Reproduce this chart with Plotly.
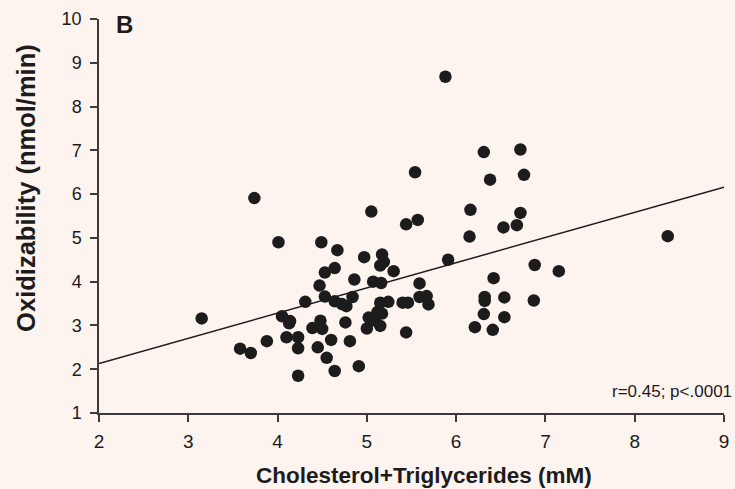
import plotly.graph_objects as go

# Data
chol_tg = [3.15, 3.58, 3.70, 3.74, 3.88, 4.01, 4.05, 4.14, 4.13, 4.10, 4.23, 4.23, 4.23,
           4.31, 4.39, 4.45, 4.47, 4.49, 4.48, 4.50, 4.53, 4.53, 4.55, 4.60, 4.64, 4.64,
           4.64, 4.67, 4.72, 4.77, 4.76, 4.81, 4.84, 4.86, 4.91, 4.97, 5.00, 5.02, 5.05,
           5.07, 5.09, 5.12, 5.15, 5.15, 5.16, 5.15, 5.17, 5.17, 5.19, 5.24, 5.30, 5.40,
           5.44, 5.44, 5.46, 5.54, 5.57, 5.59, 5.59, 5.67, 5.69, 5.88, 5.91, 6.15, 6.16,
           6.21, 6.31, 6.31, 6.32, 6.32, 6.38, 6.41, 6.42, 6.53, 6.54, 6.54, 6.68, 6.72,
           6.72, 6.76, 6.88, 6.87, 7.15, 8.37]
oxidizability = [3.16, 2.47, 2.37, 5.91, 2.64, 4.90, 3.21, 3.10, 3.05, 2.73, 2.73, 2.48, 1.85,
                 3.54, 2.94, 2.50, 3.91, 4.90, 3.11, 2.92, 4.21, 3.66, 2.26, 2.67, 1.96, 4.31,
                 3.55, 4.72, 3.49, 3.44, 3.07, 2.64, 3.65, 4.05, 2.07, 4.56, 2.93, 3.18, 5.60,
                 4.00, 3.11, 3.31, 2.99, 4.37, 3.97, 3.52, 4.62, 3.27, 4.45, 3.54, 4.24, 3.52,
                 2.84, 5.31, 3.52, 6.50, 5.41, 3.96, 3.65, 3.67, 3.48, 8.68, 4.50, 5.03, 5.64,
                 2.96, 6.96, 3.26, 3.65, 3.56, 6.33, 2.90, 4.08, 5.24, 3.64, 3.19, 5.29, 7.02,
                 5.57, 6.44, 4.38, 3.57, 4.24, 5.04]
fit_x = [2, 9]
fit_y = [2.13, 6.16]

x_ticks = [2, 3, 4, 5, 6, 7, 8, 9]
y_ticks = [1, 2, 3, 4, 5, 6, 7, 8, 9, 10]

panel_label = "B"
stat_text = "r=0.45; p<.0001"
x_title = "Cholesterol+Triglycerides (mM)"
y_title = "Oxidizability (nmol/min)"

BG = "#FDF4F0"
FONT = "Liberation Sans, Arial, sans-serif"
INK = "#1c1c1c"

fig = go.Figure()
fig.add_trace(go.Scatter(x=fit_x, y=fit_y, mode="lines",
                         line=dict(color=INK, width=1.5), hoverinfo="skip"))
fig.add_trace(go.Scatter(x=chol_tg, y=oxidizability, mode="markers",
                         marker=dict(size=12.5, color=INK, line=dict(width=0))))

axis_common = dict(showgrid=False, zeroline=False, showline=True, linecolor="#3a3a3a",
                   linewidth=1.5, ticks="outside", ticklen=7, tickwidth=1.5,
                   tickcolor="#3a3a3a")

fig.update_layout(
    width=735, height=489,
    margin=dict(l=99, r=6, t=19, b=76),
    paper_bgcolor=BG, plot_bgcolor=BG,
    showlegend=False,
    xaxis=dict(range=[2, 9], tickvals=x_ticks, ticktext=[str(v) for v in x_ticks],
               tickfont=dict(family=FONT, size=19, color=INK), ticklabelstandoff=3,
               **axis_common),
    yaxis=dict(range=[1, 10], tickvals=y_ticks, ticktext=[str(v) for v in y_ticks],
               tickfont=dict(family=FONT, size=18, color=INK), ticklabelstandoff=5,
               **axis_common),
    annotations=[
        dict(text=panel_label, xref="paper", yref="paper", x=0.024, y=0.985,
             xanchor="left", yanchor="middle", showarrow=False,
             font=dict(family=FONT, size=24, color=INK, weight="bold")),
        dict(text=stat_text, xref="paper", yref="paper", x=1.016, y=0.055,
             xanchor="right", yanchor="middle", showarrow=False,
             font=dict(family=FONT, size=17, color=INK)),
        dict(text=x_title, xref="paper", yref="paper", x=0.52, y=-0.158,
             xanchor="center", yanchor="middle", showarrow=False,
             font=dict(family=FONT, size=22.5, color=INK, weight="bold")),
        dict(text=y_title, xref="paper", yref="paper", x=-0.118, y=0.572,
             xanchor="center", yanchor="middle", showarrow=False, textangle=-90,
             font=dict(family=FONT, size=25.5, color=INK, weight="bold")),
    ],
)

fig.write_html("out.html")
